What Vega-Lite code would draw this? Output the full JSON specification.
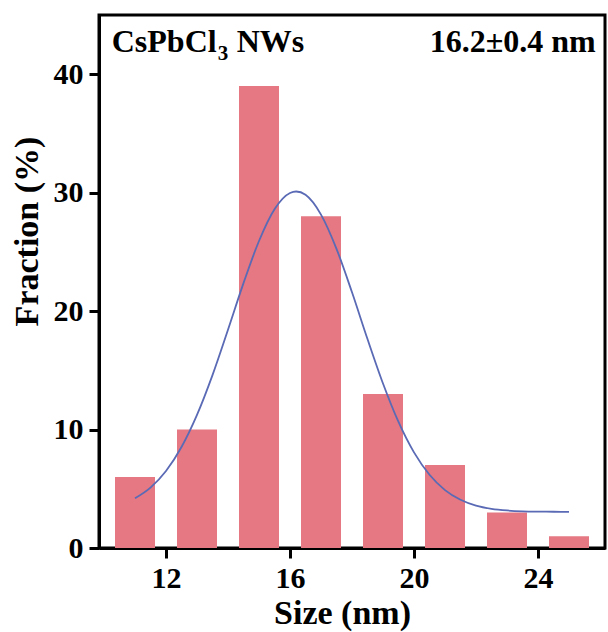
{
  "$schema": "https://vega.github.io/schema/vega-lite/v6.json",
  "width": 506,
  "height": 533,
  "autosize": "none",
  "padding": {"left": 99, "top": 15, "right": 3, "bottom": 84},
  "background": "white",
  "config": {
    "view": {"stroke": "black", "strokeWidth": 3},
    "font": "Liberation Serif",
    "axis": {
      "grid": false,
      "domainColor": "black",
      "domainWidth": 3,
      "tickColor": "black",
      "tickWidth": 3,
      "tickSize": 10,
      "labelFont": "Liberation Serif",
      "labelFontWeight": "bold",
      "labelFontSize": 30,
      "labelColor": "black",
      "titleFont": "Liberation Serif",
      "titleFontWeight": "bold",
      "titleFontSize": 34,
      "titleColor": "black"
    }
  },
  "datasets": {
    "bars": [
      {"size": 11, "fraction": 6},
      {"size": 13, "fraction": 10},
      {"size": 15, "fraction": 39},
      {"size": 17, "fraction": 28},
      {"size": 19, "fraction": 13},
      {"size": 21, "fraction": 7},
      {"size": 23, "fraction": 3},
      {"size": 25, "fraction": 1}
    ],
    "fit": [
      {"size": 11.0, "fraction": 4.20},
      {"size": 11.5, "fraction": 5.10},
      {"size": 12.0, "fraction": 6.50},
      {"size": 12.5, "fraction": 8.53},
      {"size": 13.0, "fraction": 11.24},
      {"size": 13.5, "fraction": 14.60},
      {"size": 14.0, "fraction": 18.43},
      {"size": 14.5, "fraction": 22.36},
      {"size": 15.0, "fraction": 25.92},
      {"size": 15.5, "fraction": 28.60},
      {"size": 16.0, "fraction": 29.97},
      {"size": 16.2, "fraction": 30.10},
      {"size": 16.5, "fraction": 29.82},
      {"size": 17.0, "fraction": 28.15},
      {"size": 17.5, "fraction": 25.26},
      {"size": 18.0, "fraction": 21.59},
      {"size": 18.5, "fraction": 17.64},
      {"size": 19.0, "fraction": 13.89},
      {"size": 19.5, "fraction": 10.64},
      {"size": 20.0, "fraction": 8.07},
      {"size": 20.5, "fraction": 6.18},
      {"size": 21.0, "fraction": 4.89},
      {"size": 21.5, "fraction": 4.07},
      {"size": 22.0, "fraction": 3.58},
      {"size": 22.5, "fraction": 3.31},
      {"size": 23.0, "fraction": 3.17},
      {"size": 23.5, "fraction": 3.10},
      {"size": 24.0, "fraction": 3.07},
      {"size": 24.5, "fraction": 3.06},
      {"size": 25.0, "fraction": 3.05}
    ],
    "notes": [
      {"size": 10.25, "fraction": 41.9, "part": "name", "label": "CsPbCl"},
      {"size": 10.25, "fraction": 41.9, "part": "sub", "label": "3"},
      {"size": 10.25, "fraction": 41.9, "part": "tail", "label": "NWs"},
      {"size": 25.86, "fraction": 41.9, "part": "stat", "label": "16.2±0.4 nm"}
    ]
  },
  "layer": [
    {
      "data": {"name": "bars"},
      "mark": {"type": "bar", "width": 40, "color": "#E57882"},
      "encoding": {
        "x": {
          "field": "size",
          "type": "quantitative",
          "scale": {"domain": [10, 26], "nice": false, "zero": false},
          "axis": {
            "values": [12, 16, 20, 24],
            "title": "Size (nm)",
            "labelPadding": 5,
            "titleX": 243,
            "titleY": 75,
            "titleBaseline": "alphabetic",
            "titleAnchor": "middle",
            "titleAlign": "center"
          }
        },
        "y": {
          "field": "fraction",
          "type": "quantitative",
          "scale": {"domain": [0, 45], "nice": false},
          "axis": {
            "values": [0, 10, 20, 30, 40],
            "title": "Fraction (%)",
            "labelPadding": 6,
            "titleX": -72,
            "titleY": 216,
            "titleAngle": -90,
            "titleBaseline": "middle",
            "titleAlign": "center"
          }
        }
      }
    },
    {
      "data": {"name": "fit"},
      "mark": {"type": "line", "color": "#5A6AB5", "strokeWidth": 1.8, "interpolate": "monotone"},
      "encoding": {
        "x": {"field": "size", "type": "quantitative"},
        "y": {"field": "fraction", "type": "quantitative"}
      }
    },
    {
      "data": {"name": "notes"},
      "transform": [{"filter": "datum.part == 'name'"}],
      "mark": {"type": "text", "align": "left", "baseline": "alphabetic", "fontSize": 32, "fontWeight": "bold", "font": "Liberation Serif", "color": "black"},
      "encoding": {
        "x": {"field": "size", "type": "quantitative"},
        "y": {"field": "fraction", "type": "quantitative"},
        "text": {"field": "label"}
      }
    },
    {
      "data": {"name": "notes"},
      "transform": [{"filter": "datum.part == 'sub'"}],
      "mark": {"type": "text", "align": "left", "baseline": "alphabetic", "fontSize": 21, "fontWeight": "bold", "font": "Liberation Serif", "color": "black", "dx": 106, "dy": 8},
      "encoding": {
        "x": {"field": "size", "type": "quantitative"},
        "y": {"field": "fraction", "type": "quantitative"},
        "text": {"field": "label"}
      }
    },
    {
      "data": {"name": "notes"},
      "transform": [{"filter": "datum.part == 'tail'"}],
      "mark": {"type": "text", "align": "left", "baseline": "alphabetic", "fontSize": 32, "fontWeight": "bold", "font": "Liberation Serif", "color": "black", "dx": 125},
      "encoding": {
        "x": {"field": "size", "type": "quantitative"},
        "y": {"field": "fraction", "type": "quantitative"},
        "text": {"field": "label"}
      }
    },
    {
      "data": {"name": "notes"},
      "transform": [{"filter": "datum.part == 'stat'"}],
      "mark": {"type": "text", "align": "right", "baseline": "alphabetic", "fontSize": 32, "fontWeight": "bold", "font": "Liberation Serif", "color": "black"},
      "encoding": {
        "x": {"field": "size", "type": "quantitative"},
        "y": {"field": "fraction", "type": "quantitative"},
        "text": {"field": "label"}
      }
    }
  ]
}
